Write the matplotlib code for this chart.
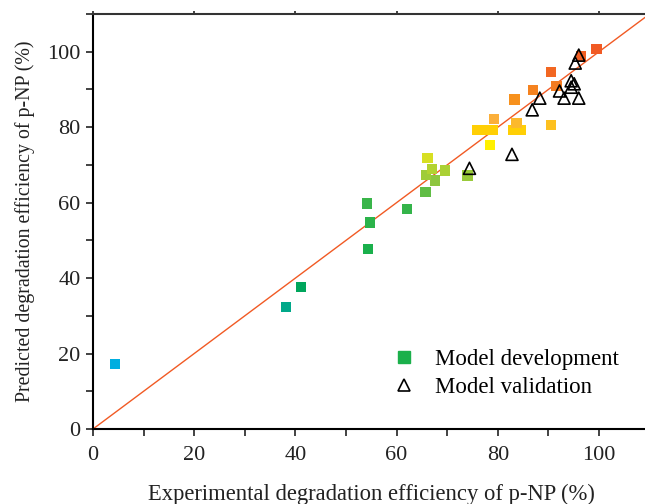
import matplotlib.pyplot as plt
import numpy as np
from matplotlib.colors import LinearSegmentedColormap, Normalize
from matplotlib.lines import Line2D
from matplotlib.ticker import MultipleLocator

# model development points (experimental, predicted)
exp_dev = [4.3, 38.1, 41.1, 54.3, 54.2, 54.7, 62.1, 65.7, 67.6, 65.8, 67.0, 69.6, 66.1, 74.0, 78.4,
           76.0, 77.5, 79.0, 83.1, 84.6, 79.3, 83.7, 90.5, 83.3, 86.9, 91.6, 90.5, 96.4, 99.5]
pred_dev = [17.2, 32.4, 37.7, 47.8, 59.8, 54.7, 58.3, 62.8, 65.9, 67.4, 68.9, 68.5, 71.8, 67.2, 75.3,
            79.3, 79.3, 79.3, 79.3, 79.3, 82.1, 81.1, 80.5, 87.3, 89.9, 90.9, 94.6, 98.8, 100.8]

# model validation points
exp_val = [74.4, 82.8, 86.8, 88.3, 92.2, 93.1, 96.0, 94.5, 95.1, 94.5, 95.3, 96.0]
pred_val = [69.1, 72.8, 84.6, 87.7, 89.6, 87.7, 87.7, 90.6, 91.5, 92.3, 97.0, 99.1]

line_x = [0, 110]

plt.rcParams['font.family'] = ['Liberation Serif', 'DejaVu Serif']
plt.rcParams['font.size'] = 16

# colour of squares follows the predicted value
nodes = [(17, '#00aee0'), (32, '#00a88a'), (38, '#00a65a'), (48, '#1bb04b'), (60, '#39b54a'),
         (66, '#8cc63f'), (72, '#d7df23'), (75, '#fff200'), (79, '#ffd200'), (82, '#fbb03b'),
         (87, '#f7941d'), (95, '#f26522'), (101, '#f15a24')]
lo, hi = nodes[0][0], nodes[-1][0]
cmap = LinearSegmentedColormap.from_list('grad', [((v - lo) / (hi - lo), c) for v, c in nodes])

fig = plt.figure(figsize=(6.45, 5.04), dpi=100)
ax = fig.add_axes([93 / 645, 75 / 504, 556.6 / 645, 415 / 504])

ax.plot(line_x, line_x, color='#f15a24', lw=1.0, zorder=1)
ax.scatter(exp_dev, pred_dev, c=pred_dev, cmap=cmap, norm=Normalize(lo, hi), marker='s',
           s=55, linewidths=0, zorder=2)
ax.scatter(exp_val, pred_val, marker='^', s=75, facecolors='none', edgecolors='black',
           linewidths=1.2, zorder=3)

ax.set_xlim(0, 110)
ax.set_ylim(0, 110)
ax.xaxis.set_major_locator(MultipleLocator(20))
ax.xaxis.set_minor_locator(MultipleLocator(10))
ax.yaxis.set_major_locator(MultipleLocator(20))
ax.yaxis.set_minor_locator(MultipleLocator(10))
ax.tick_params(which='both', direction='out', length=5, width=1.2, right=False, labelsize=16,
               colors='#222222')
ax.tick_params(axis='x', which='major', pad=7, top=True)
ax.tick_params(axis='x', which='minor', top=False)
ax.tick_params(axis='y', pad=4)
for t in ax.xaxis.get_major_ticks():
    t.tick2line.set_markersize(2)
    t.tick2line.set_color('#999999')
ax.spines['right'].set_visible(False)
for s in ['left', 'bottom', 'top']:
    ax.spines[s].set_linewidth(1.5)
ax.spines['top'].set_color('#333333')

ax.set_xlabel('Experimental degradation efficiency of p-NP (%)', labelpad=14, fontsize=16.3,
              color='#222222')
ax.set_ylabel('Predicted degradation efficiency of p-NP (%)', labelpad=9, fontsize=14.3,
              color='#222222')

handles = [
    Line2D([], [], marker='s', ls='none', color='#1bb04b', markersize=8.5),
    Line2D([], [], marker='^', ls='none', markerfacecolor='none', markeredgecolor='black',
           markeredgewidth=1.2, markersize=9),
]
ax.legend(handles, ['Model development', 'Model validation'], loc='lower left',
          bbox_to_anchor=(0.48, 0.025), frameon=False, fontsize=16.5, handletextpad=0.35,
          labelspacing=0.3)

fig.savefig('out.png', dpi=100)
